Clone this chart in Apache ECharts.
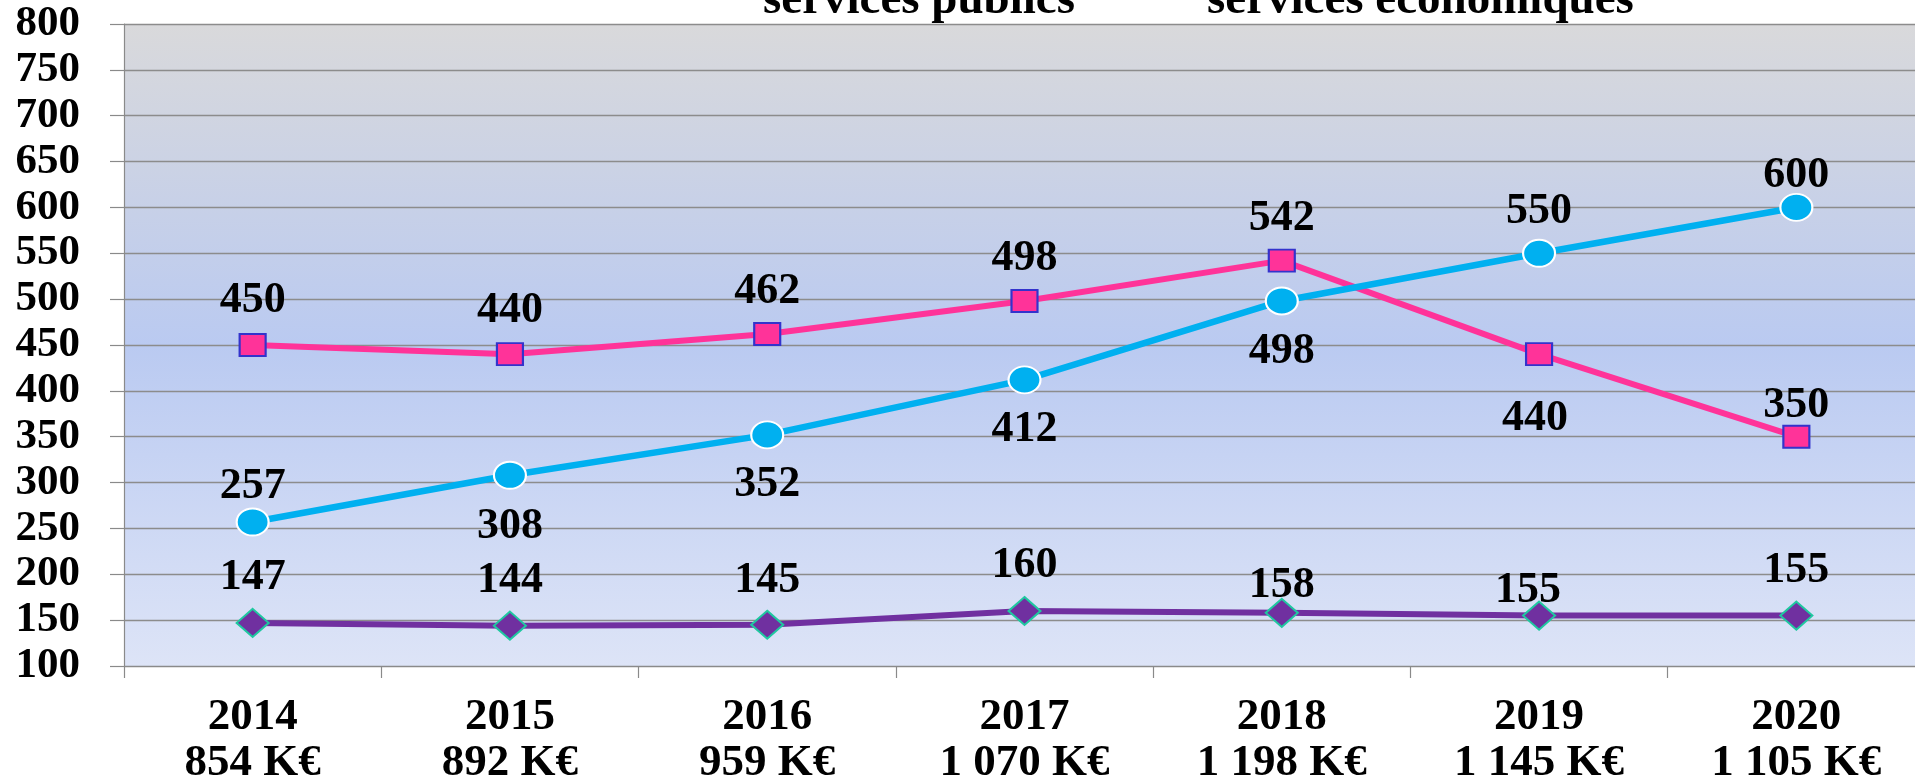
<!DOCTYPE html>
<html>
<head>
<meta charset="utf-8">
<script src="https://cdn.jsdelivr.net/npm/echarts@6/dist/echarts.min.js"></script>
<style>
  html, body { margin: 0; padding: 0; background: #fff; }
  #chart { width: 1915px; height: 782px; }
</style>
</head>
<body>
<div id="chart"></div>
<script>
var years = ['2014', '2015', '2016', '2017', '2018', '2019', '2020'];
var budgets = ['854 K€', '892 K€', '959 K€', '1 070 K€', '1 198 K€', '1 145 K€', '1 105 K€'];
var pinkValues = [450, 440, 462, 498, 542, 440, 350];
var blueValues = [257, 308, 352, 412, 498, 550, 600];
var purpleValues = [147, 144, 145, 160, 158, 155, 155];
var legendNames = ['services publics', 'services économiques'];

// décalage des étiquettes [dx, dy] par rapport au point
var pinkLabelOffset = [[0,-44],[0,-44],[0,-42],[0,-42],[0,-42],[-4,64],[0,-31]];
var blueLabelOffset = [[0,-35],[0,51],[0,50],[0,50],[0,51],[0,-42],[0,-32]];
var purpleLabelOffset = [[0,-45],[0,-45],[0,-44],[0,-45],[0,-27],[-11,-25],[0,-45]];

var serif = 'Liberation Serif';
var ellipse = 'path://M0,13.5A16,13.5 0 1,1 32,13.5A16,13.5 0 1,1 0,13.5Z';

function withLabels(values, offsets) {
	return values.map(function (v, i) {
		return { value: v, label: { offset: offsets[i] } };
	});
}

var labelStyle = {
	show: true,
	position: 'inside',
	color: '#000',
	fontFamily: serif,
	fontWeight: 'bold',
	fontSize: 44
};

var chart = echarts.init(document.getElementById('chart'));
var option = {
	animation: false,
	backgroundColor: '#fff',
	grid: {
		left: 124, right: -10, top: 24, bottom: 116,
		containLabel: false,
		outerBoundsMode: 'none',
		show: true,
		borderWidth: 0,
		backgroundColor: {
			type: 'linear', x: 0, y: 0, x2: 0, y2: 1,
			colorStops: [
				{ offset: 0, color: '#d9d9db' },
				{ offset: 0.5, color: '#bacaf1' },
				{ offset: 1, color: '#dde4f7' }
			]
		}
	},
	graphic: [
		{ type: 'text', left: 763, top: -23, style: { text: legendNames[0], font: 'bold 47px "Liberation Serif"', fill: '#000' } },
		{ type: 'text', left: 1207, top: -23, style: { text: legendNames[1], font: 'bold 47px "Liberation Serif"', fill: '#000' } }
	],
	xAxis: {
		type: 'category',
		data: years,
		boundaryGap: true,
		axisLine: { show: true, lineStyle: { color: '#8a8a8a', width: 1.2 } },
		axisTick: { show: true, length: 12, lineStyle: { color: '#8a8a8a', width: 1.2 } },
		axisLabel: {
			interval: 0,
			margin: 28,
			color: '#000',
			fontFamily: serif,
			fontWeight: 'bold',
			fontSize: 45,
			lineHeight: 46,
			formatter: function (v, i) { return v + '\n' + budgets[i]; }
		},
		splitLine: { show: false }
	},
	yAxis: {
		type: 'value',
		min: 100,
		max: 800,
		interval: 50,
		axisLine: { show: true, lineStyle: { color: '#8a8a8a', width: 1.2 } },
		axisTick: { show: true, length: 14, lineStyle: { color: '#8a8a8a', width: 1.2 } },
		axisLabel: {
			margin: 44,
			color: '#000',
			fontFamily: serif,
			fontWeight: 'bold',
			fontSize: 43
		},
		splitLine: { show: true, lineStyle: { color: '#8c8c8c', width: 1.3 } }
	},
	series: [
		{
			name: 'purple',
			type: 'line',
			data: withLabels(purpleValues, purpleLabelOffset),
			symbol: 'diamond',
			symbolSize: [32, 28],
			lineStyle: { color: '#7030a0', width: 6 },
			itemStyle: { color: '#7030a0', borderColor: '#1fc8a0', borderWidth: 2 },
			label: labelStyle
		},
		{
			name: legendNames[0],
			type: 'line',
			data: withLabels(pinkValues, pinkLabelOffset),
			symbol: 'rect',
			symbolSize: [26, 22],
			lineStyle: { color: '#ff3399', width: 6 },
			itemStyle: { color: '#ff3399', borderColor: '#3333cc', borderWidth: 2 },
			label: labelStyle
		},
		{
			name: legendNames[1],
			type: 'line',
			data: withLabels(blueValues, blueLabelOffset),
			symbol: ellipse,
			symbolSize: [32, 27],
			lineStyle: { color: '#00b0f0', width: 6.5 },
			itemStyle: { color: '#00b0f0', borderColor: '#ffffff', borderWidth: 2 },
			label: labelStyle
		}
	]
};
chart.setOption(option);
</script>
</body>
</html>
